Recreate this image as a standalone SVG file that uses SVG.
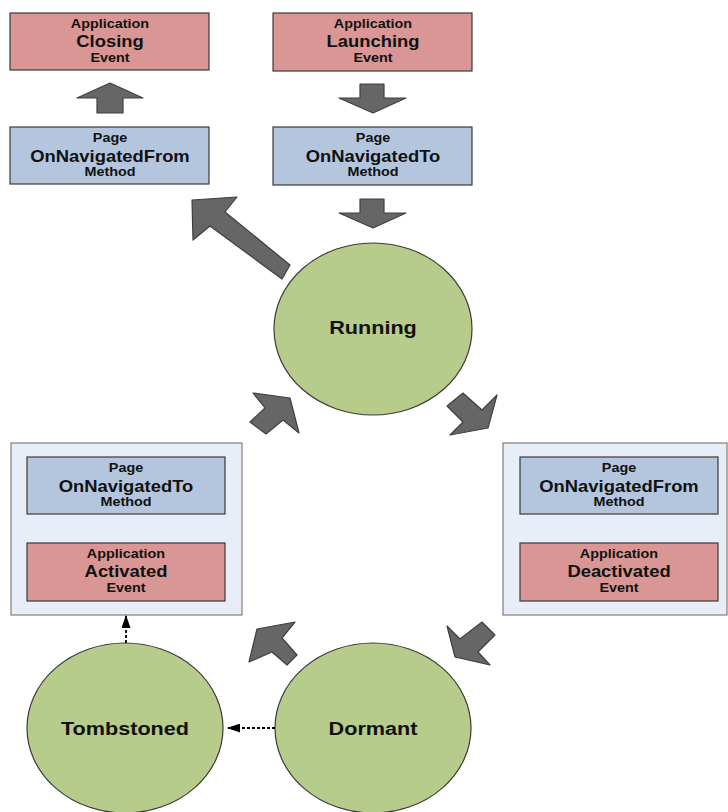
<svg xmlns="http://www.w3.org/2000/svg" width="728" height="812" viewBox="0 0 728 812">
  <style>
    text { font-family: "Liberation Sans", Arial, sans-serif; font-weight: bold; fill: #111111; text-anchor: middle; }
    .sm { font-size: 12.5px; }
    .md { font-size: 16px; }
    .lg { font-size: 18.8px; }
    .event { fill: #d99694; stroke: #3a3a3a; stroke-width: 1.2; }
    .method { fill: #b3c6de; stroke: #3a3a3a; stroke-width: 1.2; }
    .panel { fill: #e8eef8; stroke: #7f7f7f; stroke-width: 1.2; }
    .state { fill: #b7cb8b; stroke: #3a3a3a; stroke-width: 1.2; }
    .flow { fill: #666666; stroke: #3f3f3f; stroke-width: 1.2; stroke-linejoin: round; }
    .dash { fill: none; stroke: #000; stroke-width: 1.8; stroke-dasharray: 3 2; }
  </style>
  <defs>
    <marker id="tri" viewBox="0 0 13 9" refX="12" refY="4.5" markerWidth="13" markerHeight="9" markerUnits="userSpaceOnUse" orient="auto">
      <path d="M0,0 L13,4.5 L0,9 z" fill="#000"/>
    </marker>
  </defs>
  <rect width="728" height="812" fill="#ffffff"/>

  <!-- top-left column -->
  <g id="app-closing">
    <rect class="event" x="10" y="13" width="199" height="57"/>
    <text class="sm" transform="translate(110 28) scale(1.15 1)">Application</text>
    <text class="md" transform="translate(110 47) scale(1.15 1)">Closing</text>
    <text class="sm" transform="translate(110 62) scale(1.15 1)">Event</text>
  </g>
  <g id="page-navigated-from-top">
    <rect class="method" x="10" y="127" width="199" height="57"/>
    <text class="sm" transform="translate(110 142) scale(1.15 1)">Page</text>
    <text class="md" transform="translate(110 161.5) scale(1.15 1)">OnNavigatedFrom</text>
    <text class="sm" transform="translate(110 176) scale(1.15 1)">Method</text>
  </g>

  <!-- top-right column -->
  <g id="app-launching">
    <rect class="event" x="273" y="13" width="199" height="58"/>
    <text class="sm" transform="translate(373 28) scale(1.15 1)">Application</text>
    <text class="md" transform="translate(373 47) scale(1.15 1)">Launching</text>
    <text class="sm" transform="translate(373 62) scale(1.15 1)">Event</text>
  </g>
  <g id="page-navigated-to-top">
    <rect class="method" x="273" y="127" width="199" height="58"/>
    <text class="sm" transform="translate(373 142) scale(1.15 1)">Page</text>
    <text class="md" transform="translate(373 161.5) scale(1.15 1)">OnNavigatedTo</text>
    <text class="sm" transform="translate(373 176) scale(1.15 1)">Method</text>
  </g>

  <!-- states -->
  <g id="running">
    <ellipse class="state" cx="373" cy="329" rx="99" ry="86"/>
    <text class="lg" transform="translate(373 334) scale(1.15 1)">Running</text>
  </g>
  <g id="tombstoned">
    <ellipse class="state" cx="125" cy="728" rx="98" ry="85"/>
    <text class="lg" transform="translate(125 735) scale(1.15 1)">Tombstoned</text>
  </g>
  <g id="dormant">
    <ellipse class="state" cx="373" cy="728" rx="98" ry="85"/>
    <text class="lg" transform="translate(373 735) scale(1.15 1)">Dormant</text>
  </g>

  <!-- left panel: reactivation -->
  <g id="activation-panel">
    <rect class="panel" x="11" y="443" width="231" height="172"/>
    <g id="page-navigated-to-left">
      <rect class="method" x="27" y="457" width="198" height="57"/>
      <text class="sm" transform="translate(126 472) scale(1.15 1)">Page</text>
      <text class="md" transform="translate(126 491.5) scale(1.15 1)">OnNavigatedTo</text>
      <text class="sm" transform="translate(126 506) scale(1.15 1)">Method</text>
    </g>
    <g id="app-activated">
      <rect class="event" x="27" y="543" width="198" height="58"/>
      <text class="sm" transform="translate(126 558) scale(1.15 1)">Application</text>
      <text class="md" transform="translate(126 577) scale(1.15 1)">Activated</text>
      <text class="sm" transform="translate(126 592) scale(1.15 1)">Event</text>
    </g>
  </g>

  <!-- right panel: deactivation -->
  <g id="deactivation-panel">
    <rect class="panel" x="503" y="443" width="224" height="172"/>
    <g id="page-navigated-from-right">
      <rect class="method" x="520" y="457" width="198" height="57"/>
      <text class="sm" transform="translate(619 472) scale(1.15 1)">Page</text>
      <text class="md" transform="translate(619 491.5) scale(1.15 1)">OnNavigatedFrom</text>
      <text class="sm" transform="translate(619 506) scale(1.15 1)">Method</text>
    </g>
    <g id="app-deactivated">
      <rect class="event" x="520" y="543" width="198" height="58"/>
      <text class="sm" transform="translate(619 558) scale(1.15 1)">Application</text>
      <text class="md" transform="translate(619 577) scale(1.15 1)">Deactivated</text>
      <text class="sm" transform="translate(619 592) scale(1.15 1)">Event</text>
    </g>
  </g>

  <!-- connectors -->
  <g id="connectors">
    <!-- block arrows -->
    <polygon class="flow" points="110,83 143,98 123,98 123,113 97,113 97,98 77,98"/>
    <polygon class="flow" points="360,84 384,84 384,98 406,98 373,113 339,98 360,98"/>
    <polygon class="flow" points="360,199 384,199 384,213 406,213 373,228 339,213 360,213"/>
    <polygon class="flow" points="192,200 237,197 225,212 290,265 282,279 210,226 193,240"/>
    <polygon class="flow" points="447,406 463,393 482,410 497,395 488,428 450,435 463,422"/>
    <polygon class="flow" points="447,626 460,639 482,622 495,635 478,652 490,665 455,657"/>
    <polygon class="flow" points="257,629 295,622 282,638 297,655 287,665 272,652 249,662"/>
    <polygon class="flow" points="253,393 290,398 299,433 283,420 266,434 250,422 265,408"/>
    <!-- dashed transitions -->
    <line class="dash" x1="275" y1="728" x2="228" y2="728" marker-end="url(#tri)"/>
    <line class="dash" x1="126" y1="643" x2="126" y2="616" marker-end="url(#tri)"/>
  </g>
</svg>
